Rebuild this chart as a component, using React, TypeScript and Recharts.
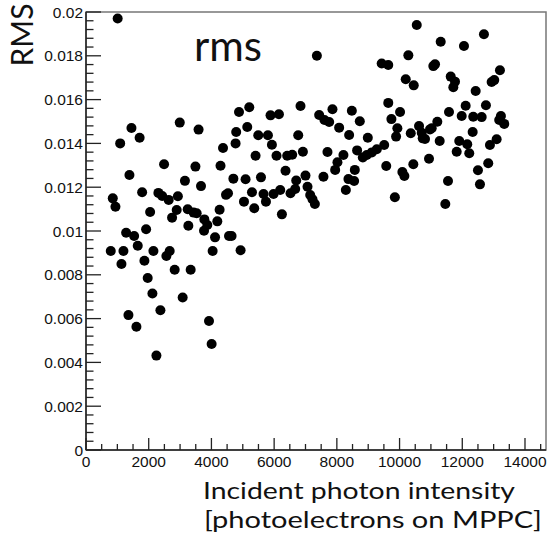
import React from "react";
import {
    ScatterChart,
    Scatter,
    XAxis,
    YAxis,
    ReferenceArea,
} from "recharts";

// [incident photon intensity (p.e.), rms], grouped by region
const lowIntensity: [number, number][] = [
    [1010, 0.0197], [1450, 0.0147], [1710, 0.01426], [1090, 0.014], [2990, 0.01495],
    [3590, 0.01463], [4880, 0.01543], [4790, 0.01452], [4770, 0.014], [4370, 0.01379],
    [2490, 0.01305], [1385, 0.01256], [3490, 0.01294], [4290, 0.01298], [4700, 0.01239],
    [3155, 0.01229], [3668, 0.01205], [1790, 0.01177], [2309, 0.01174], [2430, 0.0116],
    [2930, 0.01159], [854, 0.01149], [4465, 0.01165], [4529, 0.01172], [939, 0.01111],
    [2637, 0.01142], [2045, 0.01087], [2892, 0.01096], [2745, 0.01061], [3243, 0.01099],
    [3433, 0.01084], [3529, 0.01081], [3264, 0.01024], [3774, 0.01053], [3869, 0.01027],
    [3764, 0.01001], [4261, 0.01097], [4188, 0.01044], [1917, 0.01008], [1280, 0.00992],
    [1535, 0.00977], [1650, 0.00933], [790, 0.00909], [1194, 0.00909], [2150, 0.00909],
    [2669, 0.00909], [2564, 0.00886], [4115, 0.00971], [4560, 0.00977], [4643, 0.00977],
    [4039, 0.00909], [4930, 0.00912], [1863, 0.00864], [1131, 0.00849], [2828, 0.00823],
    [3338, 0.00823], [1968, 0.00785], [2118, 0.00715], [3083, 0.00696], [2373, 0.00638],
    [1354, 0.00616], [1608, 0.00563], [3923, 0.00589], [4006, 0.00484], [2245, 0.00431],
];

const midIntensity: [number, number][] = [
    [5293, 0.01177], [5038, 0.01134], [5366, 0.01104], [5662, 0.01169], [5739, 0.01134],
    [5981, 0.01169], [6194, 0.01187], [6248, 0.01076], [6522, 0.01172], [6672, 0.01192],
    [7064, 0.01202], [7150, 0.01164], [7223, 0.01145], [7299, 0.01123], [8287, 0.01187],
    [7363, 0.018], [5207, 0.01565], [6841, 0.01571], [5885, 0.01528], [6153, 0.01533],
    [7436, 0.0153], [7605, 0.01507], [7755, 0.01498], [7860, 0.01556], [8478, 0.01549],
    [8732, 0.01501], [5143, 0.01475], [5494, 0.01437], [5802, 0.01437], [5929, 0.01394],
    [6768, 0.01437], [8073, 0.01472], [8392, 0.01438], [8987, 0.01426], [5408, 0.01344],
    [6076, 0.01344], [6417, 0.01344], [6576, 0.01348], [6917, 0.01362], [7701, 0.01361],
    [8210, 0.01347], [8019, 0.01314], [7946, 0.01279], [8646, 0.01368], [8828, 0.01336],
    [8955, 0.01347], [6363, 0.01275], [5089, 0.01236], [5580, 0.01245], [7000, 0.01253],
    [7573, 0.01248], [6704, 0.01231], [8369, 0.01237], [8551, 0.01228], [8573, 0.01279],
];

const highIntensity: [number, number][] = [
    [9115, 0.01359], [9274, 0.01373], [9510, 0.01393], [9575, 0.01297], [9430, 0.01765],
    [9640, 0.01758], [9640, 0.01585], [9740, 0.01511], [10548, 0.01941], [12691, 0.01898],
    [11312, 0.01864], [12054, 0.01845], [10280, 0.01802], [11077, 0.01753], [11131, 0.01761],
    [13201, 0.01734], [10197, 0.01693], [10452, 0.01665], [11631, 0.01705], [11768, 0.01682],
    [11714, 0.01656], [12936, 0.0168], [13020, 0.01689], [12427, 0.01639], [10016, 0.01543],
    [11577, 0.01543], [12108, 0.01572], [12755, 0.01574], [11981, 0.01525], [12350, 0.01522],
    [12618, 0.0152], [13232, 0.01525], [13178, 0.01507], [13338, 0.01489], [11204, 0.01499],
    [10621, 0.01479], [10971, 0.01464], [11025, 0.01469], [9930, 0.01469], [9889, 0.01431],
    [10357, 0.01446], [10707, 0.01449], [10739, 0.01423], [10812, 0.0142], [12331, 0.01452],
    [11280, 0.01411], [11904, 0.01411], [12159, 0.01396], [11822, 0.01362], [12223, 0.01355],
    [13096, 0.01419], [12882, 0.01393], [10939, 0.0133], [10439, 0.01305], [10089, 0.01269],
    [10153, 0.01251], [12828, 0.01309], [12500, 0.01277], [11545, 0.01228], [12564, 0.01213],
    [9850, 0.01154], [11459, 0.01123],
];

// axis labels (ROOT style, majors every 2000 / 0.002, minor ticks in between)
const xLabels = ["0", "2000", "4000", "6000", "8000", "10000", "12000", "14000"];
const yLabels = ["0", "0.002", "0.004", "0.006", "0.008", "0.01", "0.012", "0.014", "0.016", "0.018", "0.02"];

const X_MAX = 14670;
const Y_MAX = 0.02;
const xTicks = Array.from({ length: 30 }, (_, i) => i * 500);
const yTicks = Array.from({ length: 51 }, (_, i) => Number((i * 0.0004).toFixed(4)));

const data = [...lowIntensity, ...midIntensity, ...highIntensity].map(([x, y]) => ({ x, y }));

const AXIS_COLOR = "#222";
const LABEL_FONT = "'Liberation Sans', Arial, sans-serif";
const TEXT_FONT = "Lato, 'Open Sans', sans-serif";

const XTick = (props: any) => {
    const { x, y, index } = props;
    const major = index % 4 === 0;
    return (
        <g>
            <line x1={x} y1={y} x2={x} y2={y - (major ? 12 : 6)} stroke={AXIS_COLOR} strokeWidth={1.3} />
            {major && (
                <text x={x} y={y + 17} textAnchor="middle" fontSize={15.5} fontFamily={LABEL_FONT} fill="#111">
                    {xLabels[index / 4]}
                </text>
            )}
        </g>
    );
};

const YTick = (props: any) => {
    const { x, y, index } = props;
    const major = index % 5 === 0;
    return (
        <g>
            <line x1={x} y1={y} x2={x + (major ? 15 : 7.5)} y2={y} stroke={AXIS_COLOR} strokeWidth={1.3} />
            {major && (
                <text x={x - 3} y={y + 5.5} textAnchor="end" fontSize={15.5} fontFamily={LABEL_FONT} fill="#111">
                    {yLabels[index / 5]}
                </text>
            )}
        </g>
    );
};

export default function App() {
    return (
        <div style={{ position: "absolute", left: 0, top: 0, width: 549, height: 540, background: "#fff" }}>
            <ScatterChart width={549} height={540} margin={{ top: 12, right: 3, bottom: 60, left: 46 }}>
                <ReferenceArea x1={0} x2={X_MAX} y1={0} y2={Y_MAX} fill="none" stroke="#777" strokeWidth={1.5} />
                <XAxis
                    type="number"
                    dataKey="x"
                    domain={[0, X_MAX]}
                    ticks={xTicks}
                    interval={0}
                    height={30}
                    tickSize={0}
                    tickMargin={0}
                    tick={<XTick />}
                    axisLine={{ stroke: AXIS_COLOR, strokeWidth: 1.5 }}
                />
                <YAxis
                    type="number"
                    dataKey="y"
                    domain={[0, Y_MAX]}
                    ticks={yTicks}
                    interval={0}
                    width={40}
                    tickSize={0}
                    tickMargin={0}
                    tick={<YTick />}
                    axisLine={{ stroke: AXIS_COLOR, strokeWidth: 1.5 }}
                />
                <Scatter
                    data={data}
                    isAnimationActive={false}
                    shape={(p: any) => <circle cx={p.cx} cy={p.cy} r={5} fill="#000" />}
                />
            </ScatterChart>
            <svg width={549} height={540} style={{ position: "absolute", left: 0, top: 0, pointerEvents: "none" }}>
                <text x={194} y={61} fontSize={43} fontFamily={TEXT_FONT} fill="#111" textLength={68} lengthAdjust="spacingAndGlyphs">
                    rms
                </text>
                <text
                    x={33}
                    y={35}
                    fontSize={30}
                    fontFamily={TEXT_FONT}
                    fill="#111"
                    textAnchor="middle"
                    transform="rotate(-90, 33, 35)"
                >
                    RMS
                </text>
                <text x={203} y={499} fontSize={23} fontFamily={TEXT_FONT} fill="#111" textLength={312} lengthAdjust="spacingAndGlyphs">
                    Incident photon intensity
                </text>
                <text x={204} y={528} fontSize={23} fontFamily={TEXT_FONT} fill="#111" textLength={338} lengthAdjust="spacingAndGlyphs">
                    [photoelectrons on MPPC]
                </text>
            </svg>
        </div>
    );
}
